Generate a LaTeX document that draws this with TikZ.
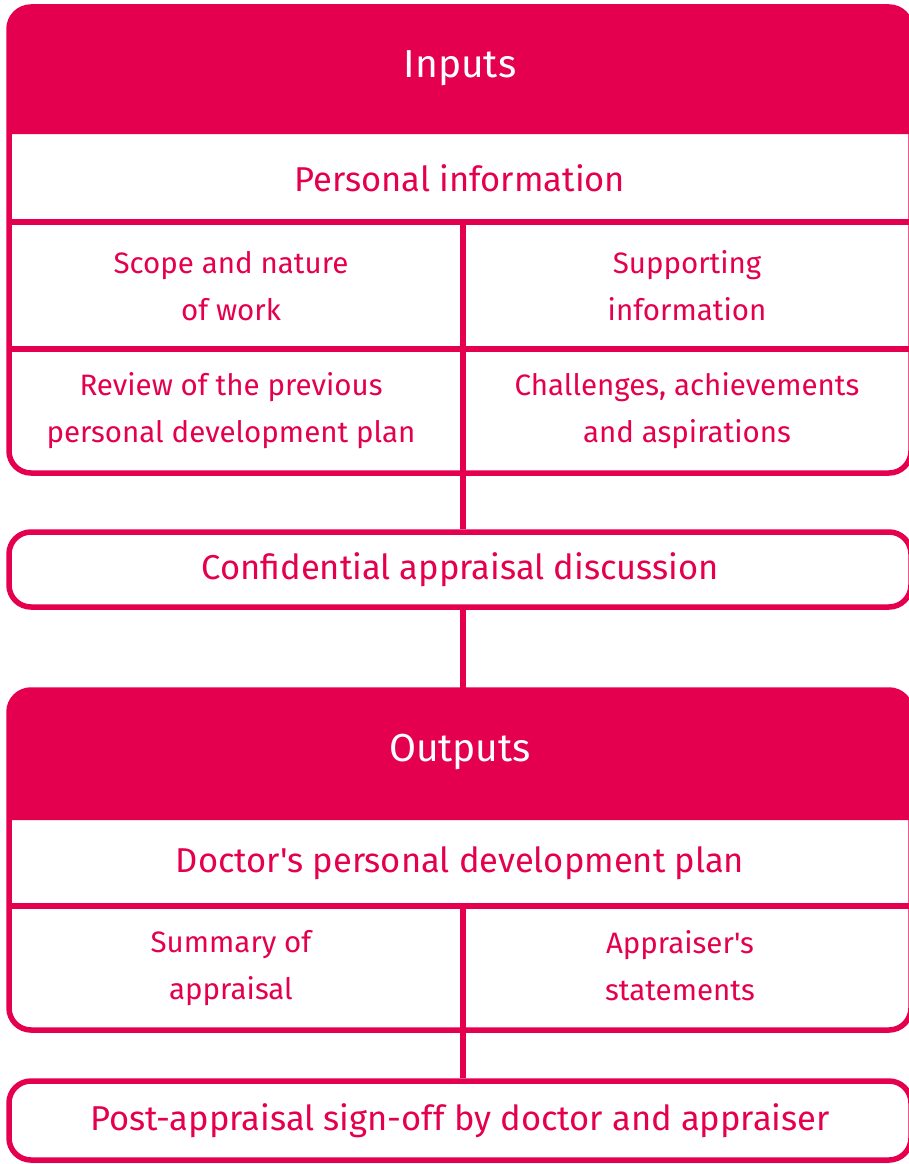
\documentclass[tikz,border=0pt]{standalone}
\usepackage{fontspec}
\setmainfont{Fira Sans}[Ligatures=TeXOff]
\usetikzlibrary{positioning}
\definecolor{apprred}{RGB}{228,0,78}

\begin{document}
\begin{tikzpicture}[x=1pt, y=-1pt,
    frame/.style={draw=apprred, line width=5.5pt, rounded corners=22pt},
    link/.style={draw=apprred, line width=5.5pt},
    head/.style={text=white, font=\fontsize{39}{50}\selectfont},
    title/.style={text=apprred, font=\fontsize{34.5}{42}\selectfont},
    cell/.style={text=apprred, align=center, font=\fontsize{29.5}{47}\selectfont}]
    \useasboundingbox (0,0) rectangle (909,1164);

    % Inputs block
    \fill[apprred] (9,134) [rounded corners=22pt] -- (9,7) -- (911,7) [sharp corners] -- (911,134) -- cycle;
    \draw[frame] (9,7) rectangle (911,473);
    \draw[link] (9,222) -- (911,222);
    \draw[link] (9,349) -- (911,349);
    \coordinate (split1) at (463,222);
    \node[head] (inputs) at (460,68) {Inputs};
    \node[title] (pinfo) at (460,178) {Personal information};
    \node[cell] (scope) at (231,286) {Scope and nature\\of work};
    \node[cell] (support) at (687,286) {Supporting\\information};
    \node[cell] (review) at (231,411) {Review of the previous\\personal development plan};
    \node[cell] (chall) at (687,411) {Challenges, achievements\\and aspirations};

    % Discussion
    \node[frame, title, minimum width=902pt, minimum height=75pt] (conf) at (460,569.5) {Confidential appraisal discussion};

    % Outputs block
    \fill[apprred] (9,820) [rounded corners=22pt] -- (9,690) -- (911,690) [sharp corners] -- (911,820) -- cycle;
    \draw[frame] (9,690) rectangle (911,1030);
    \draw[link] (9,906) -- (911,906);
    \coordinate (split2) at (463,906);
    \coordinate (outtop) at (463,690);
    \node[head] (outputs) at (460,752) {Outputs};
    \node[title] (plan) at (460,863) {Doctor's personal development plan};
    \node[cell] (summary) at (231,968) {Summary of\\appraisal};
    \node[cell] (stmts) at (680,966) {Appraiser's\\statements};

    % Sign-off
    \node[frame, title, minimum width=902pt, minimum height=79pt] (post) at (460,1120.5) {Post-appraisal sign-off by doctor and appraiser};

    % Links
    \draw[link] (split1) -- (split1 |- conf.north);
    \draw[link] (split1 |- conf.south) -- (outtop);
    \draw[link] (split2) -- (split2 |- post.north);
\end{tikzpicture}
\end{document}
